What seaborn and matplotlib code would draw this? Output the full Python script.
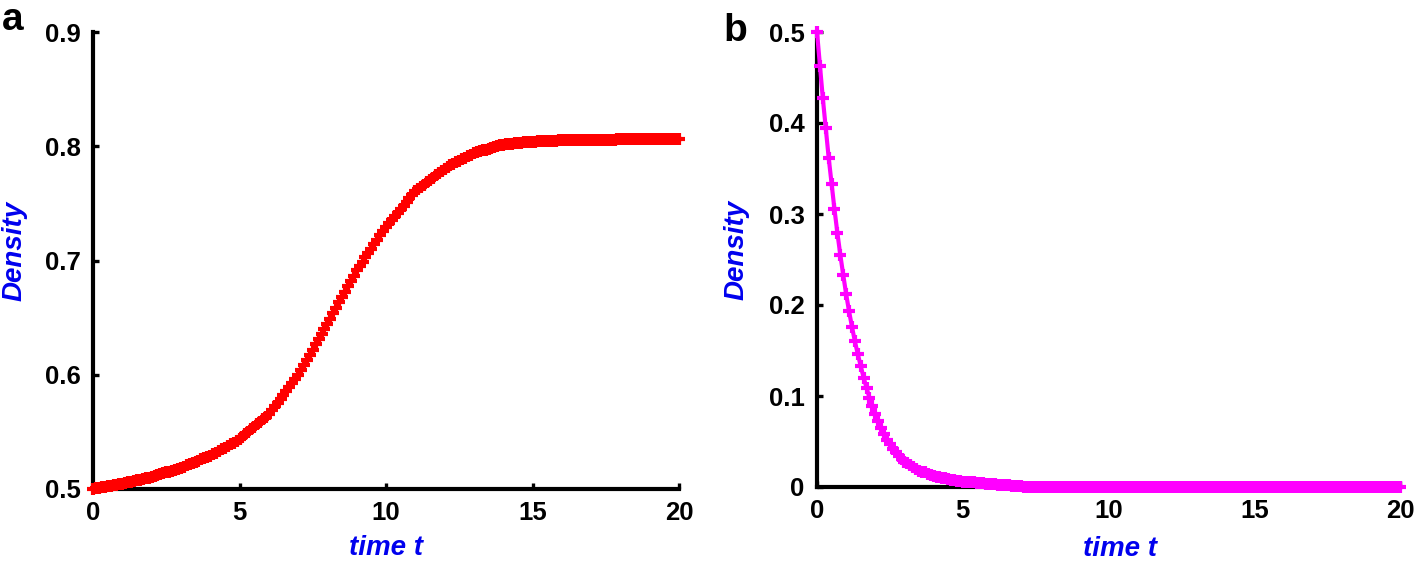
import numpy as np
import pandas as pd
import matplotlib
matplotlib.use('Agg')
import matplotlib.pyplot as plt
import seaborn as sns

sns.set_style('ticks', {'axes.edgecolor': 'black', 'text.color': 'black',
                        'xtick.color': 'black', 'ytick.color': 'black'})
plt.rcParams['font.family'] = ['Liberation Sans', 'DejaVu Sans']
plt.rcParams['font.weight'] = 'bold'

# time grid, step 0.1 from 0 to 20
time_t = np.round(np.linspace(0, 20, 201), 1)

# panel a: density rising from 0.5 to ~0.806
density_a = [
    0.5000, 0.5005, 0.5009, 0.5014, 0.5018, 0.5023, 0.5027, 0.5032, 0.5036, 0.5041,
    0.5045, 0.5051, 0.5057, 0.5063, 0.5069, 0.5075, 0.5081, 0.5087, 0.5093, 0.5099,
    0.5105, 0.5113, 0.5121, 0.5129, 0.5137, 0.5145, 0.5153, 0.5161, 0.5169, 0.5177,
    0.5185, 0.5196, 0.5206, 0.5217, 0.5227, 0.5238, 0.5248, 0.5259, 0.5269, 0.5280,
    0.5290, 0.5305, 0.5319, 0.5334, 0.5348, 0.5363, 0.5377, 0.5392, 0.5406, 0.5421,
    0.5435, 0.5457, 0.5479, 0.5501, 0.5523, 0.5545, 0.5567, 0.5589, 0.5611, 0.5633,
    0.5655, 0.5689, 0.5723, 0.5757, 0.5791, 0.5825, 0.5859, 0.5893, 0.5927, 0.5961,
    0.5995, 0.6040, 0.6085, 0.6130, 0.6175, 0.6220, 0.6265, 0.6310, 0.6355, 0.6400,
    0.6445, 0.6492, 0.6539, 0.6586, 0.6633, 0.6680, 0.6727, 0.6774, 0.6821, 0.6868,
    0.6915, 0.6953, 0.6991, 0.7029, 0.7067, 0.7105, 0.7143, 0.7181, 0.7219, 0.7257,
    0.7295, 0.7326, 0.7357, 0.7388, 0.7419, 0.7450, 0.7481, 0.7512, 0.7543, 0.7574,
    0.7605, 0.7625, 0.7645, 0.7665, 0.7685, 0.7705, 0.7725, 0.7745, 0.7765, 0.7785,
    0.7805, 0.7819, 0.7832, 0.7846, 0.7859, 0.7873, 0.7886, 0.7900, 0.7913, 0.7927,
    0.7940, 0.7948, 0.7955, 0.7963, 0.7970, 0.7978, 0.7985, 0.7993, 0.8000, 0.8008,
    0.8015, 0.8018, 0.8020, 0.8023, 0.8025, 0.8028, 0.8030, 0.8033, 0.8035, 0.8038,
    0.8040, 0.8041, 0.8042, 0.8044, 0.8045, 0.8046, 0.8047, 0.8048, 0.8050, 0.8051,
    0.8052, 0.8053, 0.8053, 0.8054, 0.8054, 0.8055, 0.8056, 0.8056, 0.8057, 0.8057,
    0.8058, 0.8058, 0.8058, 0.8058, 0.8059, 0.8059, 0.8059, 0.8059, 0.8059, 0.8060,
    0.8060, 0.8060, 0.8060, 0.8060, 0.8061, 0.8061, 0.8061, 0.8061, 0.8061, 0.8061,
    0.8062, 0.8062, 0.8062, 0.8062, 0.8062, 0.8062, 0.8063, 0.8063, 0.8063, 0.8063,
    0.8063,
]

# panel b: density decaying from 0.5 to 0 (t = 0 .. 7.0), flat zero afterwards
density_b_head = [
    0.500, 0.463, 0.427, 0.394, 0.362, 0.333, 0.305, 0.279, 0.255, 0.233,
    0.212, 0.193, 0.176, 0.160, 0.146, 0.133, 0.120, 0.109, 0.098, 0.089,
    0.080, 0.072, 0.065, 0.058, 0.052, 0.047, 0.042, 0.038, 0.034, 0.031,
    0.028, 0.026, 0.024, 0.022, 0.020, 0.018, 0.017, 0.016, 0.014, 0.013,
    0.012, 0.011, 0.011, 0.010, 0.010, 0.009, 0.008, 0.008, 0.007, 0.007,
    0.006, 0.006, 0.005, 0.005, 0.005, 0.004, 0.004, 0.004, 0.003, 0.003,
    0.003, 0.003, 0.002, 0.002, 0.002, 0.002, 0.002, 0.001, 0.001, 0.001,
    0.001,
]
density_b_tail = [0.0] * 130   # t = 7.1 .. 20.0
density_b = density_b_head + density_b_tail

xticks = [0, 5, 10, 15, 20]
yticks_a = [0.5, 0.6, 0.7, 0.8, 0.9]
yticks_b = [0, 0.1, 0.2, 0.3, 0.4, 0.5]
ylabels_b = ['0', '0.1', '0.2', '0.3', '0.4', '0.5']

df_a = pd.DataFrame({'t': time_t, 'density': density_a})
df_b = pd.DataFrame({'t': time_t, 'density': density_b})

fig = plt.figure(figsize=(14.16, 5.61), dpi=100)
ax_a = fig.add_axes([93/1416, 1 - 489/561, 586/1416, 457/561])
ax_b = fig.add_axes([817/1416, 1 - 487/561, 583/1416, 455/561])

line_kw = dict(marker='+', markersize=8.5, markeredgewidth=3.0, linewidth=3.0,
               clip_on=False, zorder=3)
sns.lineplot(data=df_a, x='t', y='density', ax=ax_a, color='#ff0000',
             markeredgecolor='#ff0000', **line_kw)
sns.lineplot(data=df_b, x='t', y='density', ax=ax_b, color='#ff00ff',
             markeredgecolor='#ff00ff', **line_kw)

for ax in (ax_a, ax_b):
    sns.despine(ax=ax)
    ax.spines['left'].set_linewidth(3.0)
    ax.spines['bottom'].set_linewidth(3.0)
    ax.set_xlim(0, 20)
    ax.set_xticks(xticks)
    ax.set_xticklabels([str(v) for v in xticks])
    ax.tick_params(direction='in', length=4, width=2.4, labelsize=18.5, pad=9,
                   colors='black')
    for lab in ax.get_xticklabels() + ax.get_yticklabels():
        lab.set_fontweight('bold')
    ax.set_xlabel('time t', color='#0000ee', fontsize=20, fontweight='bold',
                  fontstyle='italic')
    ax.set_ylabel('Density', color='#0000ee', fontsize=20, fontweight='bold',
                  fontstyle='italic')

ax_a.set_ylim(0.5, 0.9)
ax_a.set_yticks(yticks_a)
ax_a.set_yticklabels([f'{v:.1f}' for v in yticks_a], fontweight='bold')
ax_b.set_ylim(0, 0.5)
ax_b.set_yticks(yticks_b)
ax_b.set_yticklabels(ylabels_b, fontweight='bold')

ax_a.xaxis.set_label_coords(0.5, -0.10)
ax_b.xaxis.set_label_coords(0.52, -0.108)
ax_a.yaxis.set_label_coords(-0.111, 0.52)
ax_b.yaxis.set_label_coords(-0.115, 0.52)

fig.text(2/1416, 1 - 30/561, 'a', fontsize=28, fontweight='bold', va='baseline',
         color='black')
fig.text(723/1416, 1 - 41/561, 'b', fontsize=28, fontweight='bold', va='baseline',
         color='black')

fig.savefig('out.png', dpi=100)
